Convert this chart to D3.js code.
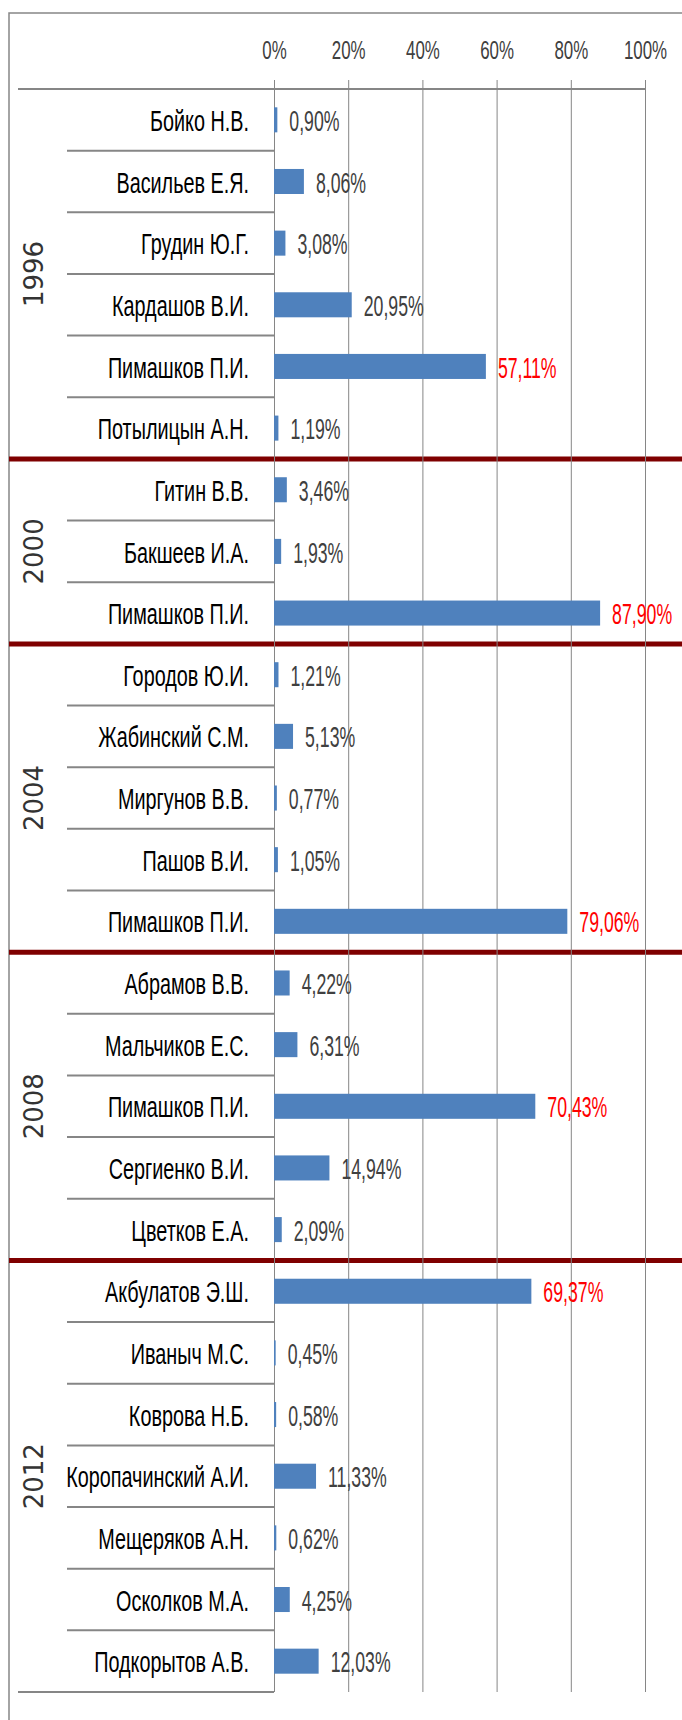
<!DOCTYPE html>
<meta charset="utf-8">
<html>
<head>
<style>
    body { margin: 0; background: #fff; }
    svg { display: block; }
</style>
</head>
<body>
<svg width="682" height="1720" id="chart"></svg>
<script src="https://d3js.org/d3.v7.min.js"></script>
<script>
    // election years and how many candidates ran in each
    var years = ["1996", "2000", "2004", "2008", "2012"];
    var groupSizes = [6, 3, 5, 5, 7];

    var candidates = [
        "Бойко Н.В.", "Васильев Е.Я.", "Грудин Ю.Г.", "Кардашов В.И.", "Пимашков П.И.", "Потылицын А.Н.",
        "Гитин В.В.", "Бакшеев И.А.", "Пимашков П.И.",
        "Городов Ю.И.", "Жабинский С.М.", "Миргунов В.В.", "Пашов В.И.", "Пимашков П.И.",
        "Абрамов В.В.", "Мальчиков Е.С.", "Пимашков П.И.", "Сергиенко В.И.", "Цветков Е.А.",
        "Акбулатов Э.Ш.", "Иваныч М.С.", "Коврова Н.Б.", "Коропачинский А.И.", "Мещеряков А.Н.", "Осколков М.А.", "Подкорытов А.В."
    ];
    // share of votes, %
    var shares = [
        0.90, 8.06, 3.08, 20.95, 57.11, 1.19,
        3.46, 1.93, 87.90,
        1.21, 5.13, 0.77, 1.05, 79.06,
        4.22, 6.31, 70.43, 14.94, 2.09,
        69.37, 0.45, 0.58, 11.33, 0.62, 4.25, 12.03
    ];
    var tickValues = [0, 20, 40, 60, 80, 100];

    var svg = d3.select("#chart");
    var top0 = 89, bottom0 = 1692, left0 = 274, right0 = 645;
    var grey = "#868686";

    var idx = d3.range(candidates.length);
    var row = d3.scaleBand().domain(idx).range([top0, bottom0]);
    var y = d3.scaleBand().domain(idx).range([top0, bottom0])
        .paddingInner(0.594).paddingOuter(0.297);
    var x = d3.scaleLinear().domain([0, 100]).range([left0, right0]);

    var ru = d3.formatLocale({ decimal: ",", thousands: " ", grouping: [3], currency: ["", ""] });
    var fmt = ru.format(".2f");

    // where each group starts (row index)
    var starts = [];
    groupSizes.reduce(function (acc, n) { starts.push(acc); return acc + n; }, 0);

    // outer frame
    svg.append("rect")
        .attr("x", 9).attr("y", 13)
        .attr("width", 800).attr("height", 1800)
        .attr("fill", "none").attr("stroke", grey).attr("stroke-width", 1.5);

    // separators between candidates inside a year
    var inner = idx.filter(function (i) { return i > 0 && starts.indexOf(i) < 0; });
    svg.append("g").selectAll("line")
        .data(inner).enter().append("line")
        .attr("x1", 67).attr("x2", left0)
        .attr("y1", function (i) { return row(i); })
        .attr("y2", function (i) { return row(i); })
        .attr("stroke", grey).attr("stroke-width", 2);

    // top and bottom lines of the category axis
    svg.append("line").attr("x1", 18).attr("x2", right0)
        .attr("y1", top0).attr("y2", top0)
        .attr("stroke", grey).attr("stroke-width", 2);
    svg.append("line").attr("x1", 18).attr("x2", left0)
        .attr("y1", bottom0).attr("y2", bottom0)
        .attr("stroke", grey).attr("stroke-width", 2);

    // dark red lines between years
    svg.append("g").selectAll("line")
        .data(starts.slice(1)).enter().append("line")
        .attr("x1", 9).attr("x2", 682)
        .attr("y1", function (i) { return row(i); })
        .attr("y2", function (i) { return row(i); })
        .attr("stroke", "#7f0000").attr("stroke-width", 5);

    /* gridlines */
    var grid = svg.append("g")
        .attr("transform", "translate(0," + top0 + ")")
        .call(d3.axisBottom(x).tickValues(tickValues).tickSize(bottom0 - top0).tickFormat(""));
    grid.select(".domain").remove();
    grid.selectAll("line").attr("stroke", grey);

    /* top axis */
    var ax = svg.append("g")
        .attr("transform", "translate(0," + top0 + ")")
        .call(d3.axisTop(x).tickValues(tickValues).tickSize(9).tickPadding(21)
            .tickFormat(function (d) { return d + "%"; }));
    ax.select(".domain").remove();
    ax.selectAll("line").attr("stroke", grey);
    ax.selectAll("text")
        .attr("font-family", "Liberation Sans, Arial, sans-serif")
        .attr("font-size", 26)
        .attr("fill", "#404040")
        .attr("transform", "scale(0.65,1)");

    // bars
    svg.append("g").selectAll("rect")
        .data(idx).enter().append("rect")
        .attr("x", x(0))
        .attr("y", function (i) { return y(i); })
        .attr("width", function (i) { return x(shares[i]) - x(0); })
        .attr("height", y.bandwidth())
        .attr("fill", "#4f81bd");

    // value labels
    svg.append("g").selectAll("g")
        .data(idx).enter().append("g")
        .attr("transform", function (i) {
            return "translate(" + (x(shares[i]) + 12) + "," + (row(i) + row.bandwidth() / 2) + ") scale(0.59,1)";
        })
        .append("text")
        .attr("dy", "0.37em")
        .attr("font-family", "Liberation Sans, Arial, sans-serif")
        .attr("font-size", 30)
        .attr("fill", function (i) { return shares[i] > 50 ? "#ff0000" : "#404040"; })
        .text(function (i) { return fmt(shares[i]) + "%"; });

    // candidate names
    svg.append("g").selectAll("g")
        .data(idx).enter().append("g")
        .attr("transform", function (i) {
            return "translate(249," + (row(i) + row.bandwidth() / 2) + ") scale(0.66,1)";
        })
        .append("text")
        .attr("dy", "0.37em")
        .attr("text-anchor", "end")
        .attr("font-family", "Liberation Sans, Arial, sans-serif")
        .attr("font-size", 30)
        .attr("fill", "#000")
        .text(function (i) { return candidates[i]; });

    // years, rotated
    svg.append("g").selectAll("text")
        .data(years).enter().append("text")
        .attr("transform", function (d, k) {
            var a = row(starts[k]), b = row(starts[k] + groupSizes[k] - 1) + row.bandwidth();
            return "translate(34," + ((a + b) / 2) + ") rotate(-90)";
        })
        .attr("dy", "0.36em")
        .attr("text-anchor", "middle")
        .attr("font-family", "DejaVu Sans, sans-serif")
        .attr("font-size", 26)
        .attr("fill", "#333")
        .text(function (d) { return d; });
</script>
</body>
</html>
